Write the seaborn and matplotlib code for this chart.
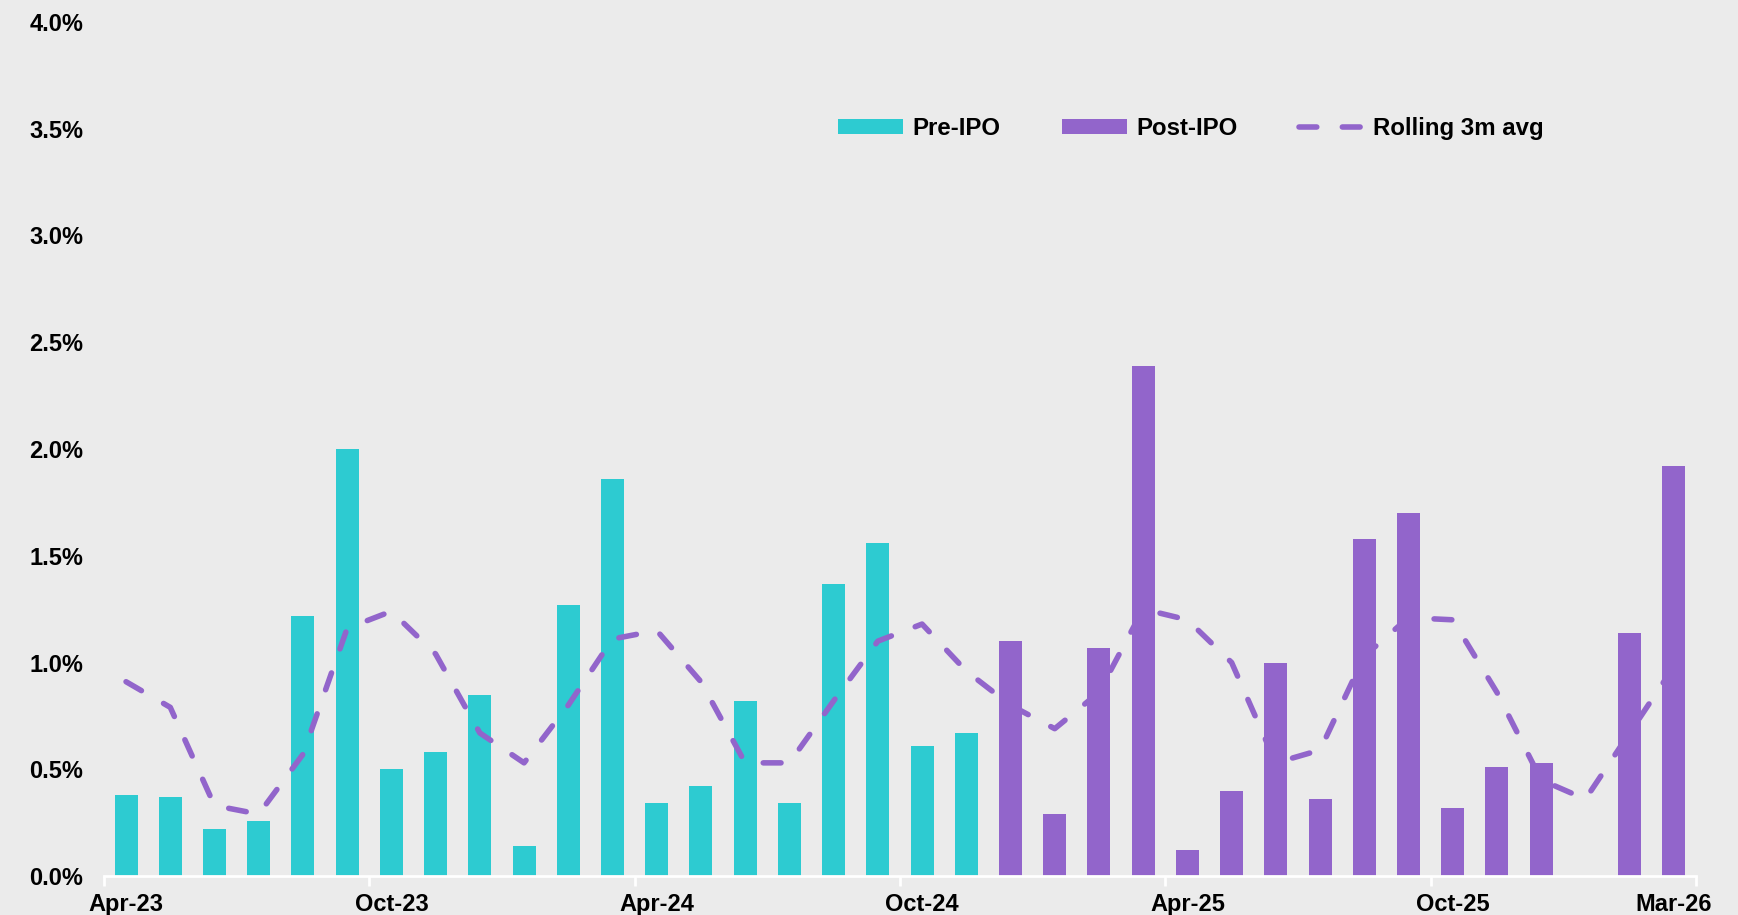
import matplotlib
matplotlib.use('Agg')
import matplotlib.pyplot as plt
import seaborn as sns
import numpy as np
import pandas as pd
from matplotlib.patches import Patch
from matplotlib.lines import Line2D
from matplotlib.ticker import FuncFormatter

### Data

months = ['Apr-23', 'May-23', 'Jun-23', 'Jul-23', 'Aug-23', 'Sep-23', 'Oct-23', 'Nov-23', 'Dec-23',
          'Jan-24', 'Feb-24', 'Mar-24', 'Apr-24', 'May-24', 'Jun-24', 'Jul-24', 'Aug-24', 'Sep-24',
          'Oct-24', 'Nov-24', 'Dec-24', 'Jan-25', 'Feb-25', 'Mar-25', 'Apr-25', 'May-25', 'Jun-25',
          'Jul-25', 'Aug-25', 'Sep-25', 'Oct-25', 'Nov-25', 'Dec-25', 'Jan-26', 'Feb-26', 'Mar-26']

phase = ['Pre-IPO'] * 20 + ['Post-IPO'] * 16

monthly_pct = [0.38, 0.37, 0.22, 0.26, 1.22, 2.00, 0.50, 0.58, 0.85,
               0.14, 1.27, 1.86, 0.34, 0.42, 0.82, 0.34, 1.37, 1.56,
               0.61, 0.67, 1.10, 0.29, 1.07, 2.39, 0.12, 0.40, 1.00,
               0.36, 1.58, 1.70, 0.32, 0.51, 0.53, 0.0, 1.14, 1.92]

rolling_3m = [0.91, 0.79, 0.33, 0.29, 0.57, 1.16, 1.24, 1.04, 0.67,
              0.53, 0.80, 1.11, 1.15, 0.91, 0.53, 0.53, 0.82, 1.10,
              1.18, 0.96, 0.80, 0.69, 0.86, 1.25, 1.20, 1.00, 0.53,
              0.59, 1.03, 1.21, 1.20, 0.86, 0.45, 0.36, 0.67, 0.98]

tick_months = ['Apr-23', 'Oct-23', 'Apr-24', 'Oct-24', 'Apr-25', 'Oct-25', 'Mar-26']

y_ticks = [0.0, 0.5, 1.0, 1.5, 2.0, 2.5, 3.0, 3.5, 4.0]

cyan = '#2DCBD1'
purple = '#9265CB'
bg = '#EBEBEB'

df = pd.DataFrame({'month': months, 'value': monthly_pct, 'phase': phase})

sns.set_theme(style='white')
plt.rcParams['font.family'] = ['Liberation Sans', 'DejaVu Sans']
plt.rcParams['font.weight'] = 'bold'
plt.rcParams['text.color'] = 'black'

fig = plt.figure(figsize=(17.38, 9.15), dpi=100, facecolor=bg)
ax = fig.add_axes([0.0598, 0.0426, 0.916, 0.9334])
ax.set_facecolor(bg)

# Bars coloured by phase
sns.barplot(data=df, x='month', y='value', hue='phase', order=months,
            palette={'Pre-IPO': cyan, 'Post-IPO': purple}, dodge=False,
            width=0.52, saturation=1, linewidth=0, errorbar=None,
            legend=False, ax=ax)

# Rolling average as dashed line
dash = (0, (3.2, 4.6))
sns.lineplot(x=np.arange(len(months)), y=rolling_3m, ax=ax, color=purple,
             linewidth=4.0, linestyle=dash, dash_capstyle='round',
             zorder=4)

# Axes styling
ax.set_xlim(-0.5, len(months) - 0.5)
ax.set_ylim(0, 4.0)
ax.set_xlabel('')
ax.set_ylabel('')

for side in ['top', 'right', 'left']:
    ax.spines[side].set_visible(False)
ax.spines['bottom'].set_color('white')
ax.spines['bottom'].set_linewidth(2)

# Ticks at every 6th boundary, labels centred on the months
boundaries = [i - 0.5 for i in range(0, len(months) + 1, 6)]
ax.set_xticks(boundaries)
ax.set_xticklabels([''] * len(boundaries))
ax.tick_params(axis='x', which='major', direction='out', length=7, width=2,
               color='white', bottom=True)

label_pos = [months.index(m) for m in tick_months]
ax.set_xticks(label_pos, minor=True)
ax.set_xticklabels(tick_months, minor=True, fontsize=17, fontweight='bold')
ax.tick_params(axis='x', which='minor', length=0, pad=12, labelcolor='black')

ax.set_yticks(y_ticks)
ax.yaxis.set_major_formatter(FuncFormatter(lambda v, p: f'{v:.1f}%'))
ax.tick_params(axis='y', length=0, pad=15, labelsize=17, labelcolor='black')
for lab in ax.get_yticklabels():
    lab.set_fontweight('bold')

ax.grid(False)

# Legend
handles = [Patch(facecolor=cyan, edgecolor='none'),
           Patch(facecolor=purple, edgecolor='none'),
           Line2D([0], [0], color=purple, linewidth=4.0, linestyle=dash,
                  dash_capstyle='round')]
labels = ['Pre-IPO', 'Post-IPO', 'Rolling 3m avg']
leg = fig.legend(handles, labels, loc='center left', bbox_to_anchor=(0.4753, 0.8596),
                 ncol=3, frameon=False, borderpad=0, handlelength=2.72,
                 handleheight=0.55, handletextpad=0.38, columnspacing=2.55,
                 labelcolor='black', prop={'size': 17.3, 'weight': 'bold'})

fig.savefig('out.png', dpi=100, facecolor=bg)
